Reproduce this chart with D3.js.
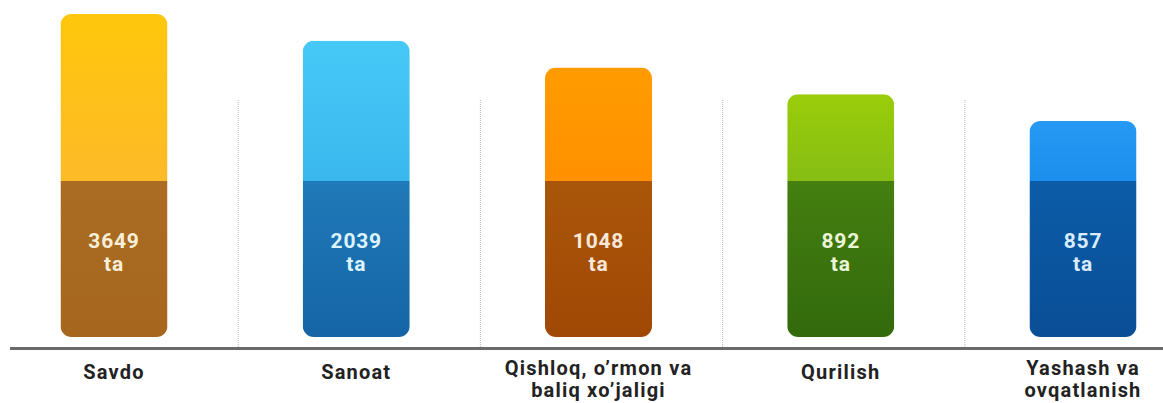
<!DOCTYPE html>
<html>
<head>
<meta charset="utf-8">
<script src="https://cdn.jsdelivr.net/npm/d3@7/dist/d3.min.js"></script>
<style>
  html, body { margin: 0; padding: 0; background: #ffffff; }
  svg { display: block; }
  text { font-family: Roboto, "Noto Sans", sans-serif; font-weight: 700; }
</style>
</head>
<body>
<svg id="chart" width="1163" height="403"></svg>
<script>
// ---- data ----
const categories = ["Savdo", "Sanoat", "Qishloq, o\u2019rmon va\nbaliq xo\u2019jaligi", "Qurilish", "Yashash va\novqatlanish"];
const values = [3649, 2039, 1048, 892, 857];
const unitLabel = "ta";
const topColors = [["#FFC70C", "#FDBA28"], ["#46C9F7", "#3AB8EE"], ["#FF9C00", "#FF9000"], ["#9ACD0A", "#86BE14"], ["#2599F3", "#1C8FEE"]];
const bottomColors = [["#AA6C22", "#A6661E"], ["#2079B8", "#1565A6"], ["#AA560A", "#A04805"], ["#447F10", "#326A0C"], ["#0B5CA7", "#0A4E97"]];
const valueTextColors = ["#F8EFD8", "#DDF4FF", "#F7E8D8", "#ECF6D6", "#D8EEFF"];

// ---- layout ----
const W = 1163, H = 403;
const baseY = 337;     // bottom of bars
const splitY = 181;    // boundary between light top and dark bottom
const axisY = 348.5;
const barW = 107;

const svg = d3.select("#chart");
const defs = svg.append("defs");

const idx = d3.range(categories.length);
const x = d3.scalePoint().domain(idx).range([114, 1083]);
const step = x.step();

// bar height ordered by rank of value
const rankOf = new Map(idx.slice().sort((a, b) => values[b] - values[a]).map((i, r) => [i, r]));
const yTop = d3.scaleLinear().domain([0, categories.length - 1]).range([14, 121]);

// separators
svg.append("g").selectAll("line")
  .data(idx.slice(1))
  .join("line")
  .attr("x1", i => x(i) - step / 2 + 3)
  .attr("x2", i => x(i) - step / 2 + 3)
  .attr("y1", 100)
  .attr("y2", axisY - 1)
  .attr("stroke", "#b8b8b8")
  .attr("stroke-width", 1)
  .attr("stroke-dasharray", "1,1");

// gradients & clips
idx.forEach(i => {
  const gt = defs.append("linearGradient").attr("id", "gt" + i).attr("x1", 0).attr("y1", 0).attr("x2", 0).attr("y2", 1);
  gt.append("stop").attr("offset", "0%").attr("stop-color", topColors[i][0]);
  gt.append("stop").attr("offset", "100%").attr("stop-color", topColors[i][1]);
  const gb = defs.append("linearGradient").attr("id", "gb" + i).attr("x1", 0).attr("y1", 0).attr("x2", 0).attr("y2", 1);
  gb.append("stop").attr("offset", "0%").attr("stop-color", bottomColors[i][0]);
  gb.append("stop").attr("offset", "100%").attr("stop-color", bottomColors[i][1]);
  defs.append("clipPath").attr("id", "clip" + i)
    .append("rect")
    .attr("x", x(i) - barW / 2)
    .attr("y", yTop(rankOf.get(i)))
    .attr("width", barW)
    .attr("height", baseY - yTop(rankOf.get(i)))
    .attr("rx", 11).attr("ry", 11);
});

const bars = svg.append("g").selectAll("g")
  .data(idx)
  .join("g")
  .attr("clip-path", i => `url(#clip${i})`);

bars.append("rect")
  .attr("x", i => x(i) - barW / 2)
  .attr("y", i => yTop(rankOf.get(i)))
  .attr("width", barW)
  .attr("height", i => splitY - yTop(rankOf.get(i)))
  .attr("fill", i => `url(#gt${i})`);

bars.append("rect")
  .attr("x", i => x(i) - barW / 2)
  .attr("y", splitY)
  .attr("width", barW)
  .attr("height", baseY - splitY)
  .attr("fill", i => `url(#gb${i})`);

// value labels
const vl = svg.append("g").selectAll("text")
  .data(idx)
  .join("text")
  .attr("text-anchor", "middle")
  .attr("font-size", 21)
  .attr("letter-spacing", 0.8)
  .attr("fill", i => valueTextColors[i]);
vl.append("tspan").attr("x", i => x(i)).attr("y", 248).text(i => values[i]);
vl.append("tspan").attr("x", i => x(i)).attr("y", 271).text(unitLabel);

// axis baseline
svg.append("line")
  .attr("x1", 10).attr("x2", W)
  .attr("y1", axisY).attr("y2", axisY)
  .attr("stroke", "#6a6a6a")
  .attr("stroke-width", 3);

// category labels
const cl = svg.append("g").selectAll("text")
  .data(idx)
  .join("text")
  .attr("text-anchor", "middle")
  .attr("font-size", 20)
  .attr("letter-spacing", 1.2)
  .attr("fill", "#222222");
cl.each(function(i) {
  const lines = categories[i].split("\n");
  const t = d3.select(this);
  lines.forEach((ln, k) => {
    t.append("tspan")
      .attr("x", x(i))
      .attr("y", lines.length > 1 ? 375 + k * 22 : 379)
      .text(ln);
  });
});
</script>
</body>
</html>
